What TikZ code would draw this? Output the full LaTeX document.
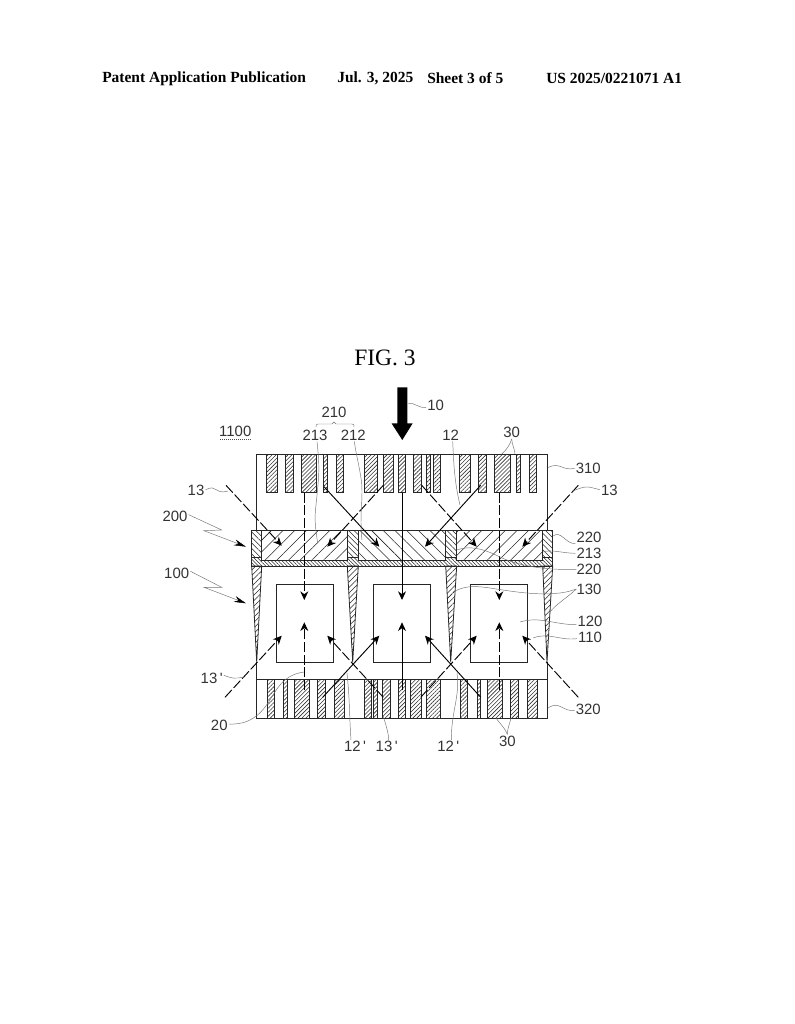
\documentclass[tikz,border=0pt]{standalone}
\usepackage{fontspec}
\setmainfont{Liberation Serif}
\newfontfamily\labelfont{Liberation Sans}
\usetikzlibrary{arrows.meta,patterns.meta}
\tikzset{
  lb/.style={font=\labelfont\fontsize{11.2}{12}\selectfont,text=black!80,inner sep=0pt},
  headtxt/.style={font=\bfseries\fontsize{11.6}{13}\selectfont,anchor=west,inner sep=0pt},
  leader/.style={draw=black!55,line width=.35pt},
  edgeline/.style={draw=black!85,line width=.6pt},
  barhatch/.style={edgeline,pattern={Lines[angle=45,distance=2.1pt,line width=.45pt]},pattern color=black!80},
  cellhatch/.style={edgeline,pattern={Lines[angle=#1,distance=6.2pt,line width=.4pt]},pattern color=black!85},
  pillarhatch/.style={edgeline,pattern={Lines[angle=#1,distance=2.9pt,line width=.4pt]},pattern color=black!85},
  thinhatch/.style={edgeline,pattern={Lines[angle=-45,distance=1.9pt,line width=.4pt]},pattern color=black!85},
  raysolid/.style={-{Stealth[length=6.5pt,width=6pt]},line width=.7pt},
  raydash/.style={raysolid,dash pattern=on 7.5pt off 2pt},
  bigtip/.style={-{Stealth[length=9pt,width=4.5pt,black]},leader}
}
\begin{document}
\begin{tikzpicture}[x=.75pt,y=-.75pt]
    \useasboundingbox (0,0) rectangle (794,1024);

    \node[headtxt] (headpub) at (102,78.5) {Patent Application Publication};
    \node[headtxt] (headdate) at (337,78.5) {Jul. 3, 2025};
    \node[headtxt] (headsheet) at (427,78.5) {Sheet 3 of 5};
    \node[headtxt] (headnum) at (546,78.5) {US 2025/0221071 A1};
    \node[font=\fontsize{17.6}{20}\selectfont,inner sep=0pt] (figname) at (385,358) {FIG. 3};

    \draw[edgeline] (256.7,530) -- (256.7,454.3) -- (547,454.3) -- (547,530);
    \foreach \a/\b in {266.3/277.3,285.3/293.3,301.3/316.7,323.3/327.3,336.3/343.7,364/377.3,383.3/393.7,398.3/405.5,413.3/421.7,426.7/430.7,433.3/440.3,459/470.7,478.7/486.7,494.3/510,516.3/520.7,529.3/536.7}
        \draw[barhatch] (\a,454.3) rectangle (\b,492.7);

    \draw[edgeline] (256.7,662) -- (256.7,718) -- (547,718) -- (547,662);
    \draw[edgeline] (256.7,679) -- (547,679);
    \foreach \a/\b in {267.3/274.7,283.7/287.7,294.3/309.7,317.3/325.3,334/344.7,364/371,373/377.7,382/390.7,398.3/405.5,410/421.3,426.7/440,460.3/467.7,477/480.7,487.7/502.3,510.3/518.3,527.3/537.3}
        \draw[barhatch] (\a,679) rectangle (\b,718);

    \foreach \a/\b/\c in {261.7/347.3/45,358.3/445.7/-45,456.7/542.7/45}
        \draw[cellhatch=\c] (\a,530) rectangle (\b,560.7);
    \foreach \a/\b in {251.7/261.7,347.3/358.3,445.7/456.7,542.7/552.7}
        \draw[pillarhatch=-45] (\a,530) rectangle (\b,557.3);
    \draw[thinhatch] (251.7,557.3) -- (261.7,557.3) -- (261.7,560.7) -- (347.3,560.7) -- (347.3,557.3) -- (358.3,557.3) -- (358.3,560.7) -- (445.7,560.7) -- (445.7,557.3) -- (456.7,557.3) -- (456.7,560.7) -- (542.7,560.7) -- (542.7,557.3) -- (552.7,557.3) -- (552.7,566) -- (251.7,566) -- cycle;

    \foreach \a/\b/\m in {251.7/261.7/256.7,347.3/358.3/352.7,445.7/456.7/450.7,542.7/552.7/547}
        \draw[pillarhatch=45] (\a,566) -- (\b,566) -- (\m,662) -- cycle;

    \foreach \a/\b in {276.7/333.7,373.3/430.3,470.7/527.7}
        \draw[edgeline] (\a,584.3) rectangle (\b,662.3);

    \fill (397.3,387.3) -- (407.3,387.3) -- (407.3,423.3) -- (412.7,423.3) -- (402.3,440) -- (391.5,423.3) -- (397.3,423.3) -- cycle;

    \draw[raydash] (226,485.3) -- (281.7,545.7);
    \draw[raysolid] (324,486.7) -- (379.3,546.7);
    \draw[raydash] (383.3,485.3) -- (327.3,546.7);
    \draw[raysolid] (480.7,485.3) -- (425,546.7);
    \draw[raydash] (421.7,485.3) -- (476.7,546.7);
    \draw[raydash] (578.3,485.3) -- (522.3,546.7);
    \draw[raydash] (304.3,492.7) -- (304.3,600);
    \draw[raysolid] (402,492.7) -- (402,600);
    \draw[raydash] (499.3,492.7) -- (499.3,600);

    \draw[raydash] (225,697.3) -- (281.7,635.7);
    \draw[raysolid] (322.7,697.3) -- (379.3,635.7);
    \draw[raydash] (383.3,697.3) -- (327.3,635.7);
    \draw[raydash] (420.7,697.3) -- (476.7,635.7);
    \draw[raysolid] (480.7,697.3) -- (425,635.7);
    \draw[raydash] (578.3,697.3) -- (522.3,635.7);
    \draw[raydash] (304.3,690) -- (304.3,622.3);
    \draw[raysolid] (402,690) -- (402,622.3);
    \draw[raydash] (499.3,690) -- (499.3,622.3);

    \node[lb] (lb1100) at (235.3,431.7) {1100};
    \draw[black!70,densely dotted,line width=.5pt] (220,439) -- (251,439);
    \node[lb] (lb210) at (334,412.7) {210};
    \node[lb] (lb213a) at (315,435) {213};
    \node[lb] (lb212) at (353.3,435) {212};
    \node[lb] (lb13a) at (196,490.7) {13};
    \node[lb] (lb200) at (175,516.7) {200};
    \node[lb] (lb100) at (176.7,573.3) {100};
    \node[lb] (lb10) at (435.7,405.7) {10};
    \node[lb] (lb12) at (450.7,435) {12};
    \node[lb] (lb30a) at (511.7,432.3) {30};
    \node[lb] (lb310) at (588.3,468.3) {310};
    \node[lb] (lb13b) at (609.3,490.7) {13};
    \node[lb] (lb220a) at (589,537.7) {220};
    \node[lb] (lb213b) at (589,553.3) {213};
    \node[lb] (lb220b) at (589,569.3) {220};
    \node[lb] (lb130) at (589,589) {130};
    \node[lb] (lb120) at (590,621.7) {120};
    \node[lb] (lb110) at (590,637.7) {110};
    \node[lb] (lb320) at (588.3,709.3) {320};
    \node[lb] (lb30b) at (507.3,741) {30};
    \node[lb] (lb12c) at (448.3,746.7) {12\,'};
    \node[lb] (lb13d) at (386.7,746.7) {13\,'};
    \node[lb] (lb12b) at (355,746.7) {12\,'};
    \node[lb] (lb13c) at (211.7,678.3) {13\,'};
    \node[lb] (lb20) at (219.3,725) {20};

    \coordinate (brL) at (316,427);
    \coordinate (brR) at (354,427);
    \draw[leader] (brL) .. controls +(0,-2) and +(-2,0) .. (318,424) -- (332,424) -- (334,422) -- (336,424) -- (352,424) .. controls +(2,0) and +(0,-2) .. (brR);

    \coordinate (c10) at (408.3,403.3);
    \coordinate (c213a) at (317.7,543.3);
    \coordinate (c212) at (362,540);
    \coordinate (c13a) at (228,491);
    \coordinate (c200) at (246,546.7);
    \coordinate (c100) at (246,603.3);
    \coordinate (c12) at (460,505);
    \coordinate (c30l) at (501.7,454);
    \coordinate (c30r) at (515,454);
    \coordinate (c310) at (548,467.5);
    \coordinate (c13b) at (573,491);
    \coordinate (c220a) at (553,536);
    \coordinate (c213b) at (543,552);
    \coordinate (c220b) at (456.7,550);
    \coordinate (c130a) at (453,592);
    \coordinate (c130b) at (550,612);
    \coordinate (c120) at (520,622);
    \coordinate (c110) at (533,638);
    \coordinate (c320) at (548,708);
    \coordinate (c30c) at (496,718);
    \coordinate (c30d) at (511,718);
    \coordinate (c12c) at (457,673);
    \coordinate (c13d) at (383,715);
    \coordinate (c12b) at (347,673);
    \coordinate (c13c) at (244,677);
    \coordinate (c20a) at (304,672);

    \draw[leader] (lb10.west) ++(-1,2) .. controls +(-9,0) and +(6,-1) .. (c10);
    \draw[leader] (lb213a.south) ++(2,1) .. controls +(3,28) and +(3,-30) .. (316,505) .. controls +(-2,15) and +(-2,-14) .. (c213a);
    \draw[leader] (lb212.south) ++(1,1) .. controls +(2,14) and +(-3,-18) .. (361,478) .. controls +(3,18) and +(-3,-25) .. (c212);
    \draw[leader] (lb13a.east) ++(1,-1) .. controls +(12,-6) and +(-14,4) .. (c13a);
    \draw[bigtip] (lb200.east) ++(1,-2) -- (221.7,530) -- (204,530.7) -- (c200);
    \draw[bigtip] (lb100.east) ++(1,-2) -- (221.7,587.3) -- (204,587.3) -- (c100);
    \draw[leader] (lb12.south) ++(2,1) .. controls +(1,20) and +(-6,-25) .. (c12);
    \draw[leader] (lb30a.south) ++(0,1) .. controls +(-1,5) and +(4,-3) .. (c30l);
    \draw[leader] (lb30a.south) ++(0,1) .. controls +(0,5) and +(0,-4) .. (c30r);
    \draw[leader] (lb310.west) ++(-1,0) .. controls +(-12,3) and +(12,-6) .. (c310);
    \draw[leader] (lb13b.west) ++(-1,-1) .. controls +(-12,-3) and +(14,-6) .. (c13b);
    \draw[leader] (lb220a.west) ++(-1,6) .. controls +(-10,0) and +(8,-6) .. (c220a);
    \draw[leader] (lb213b.west) ++(-1,0) .. controls +(-12,0) and +(8,-3) .. (c213b);
    \draw[leader] (c220b) .. controls +(12,-4) and +(-20,-10) .. (500,557) .. controls +(20,10) and +(-25,1) .. (lb220b.west);
    \draw[leader] (c130a) .. controls +(10,-5) and +(-20,-3) .. (490,588) .. controls +(20,3) and +(-25,10) .. (lb130.west);
    \draw[leader] (lb130.west) .. controls +(-8,8) and +(6,-8) .. (c130b);
    \draw[leader] (lb120.west) ++(-1,3) .. controls +(-22,0) and +(20,-6) .. (c120);
    \draw[leader] (lb110.west) ++(-1,1) .. controls +(-18,2) and +(16,-6) .. (c110);
    \draw[leader] (lb320.west) ++(-1,1) .. controls +(-12,2) and +(12,-8) .. (c320);
    \draw[leader] (lb30b.north) ++(0,-1) .. controls +(-3,-8) and +(3,5) .. (c30c);
    \draw[leader] (lb30b.north) ++(0,-1) .. controls +(0,-6) and +(-1,5) .. (c30d);
    \draw[leader] (lb12c.north) ++(3,-1) .. controls +(0,-30) and +(3,25) .. (c12c);
    \draw[leader] (lb13d.north) ++(2,-1) .. controls +(0,-8) and +(2,8) .. (c13d);
    \draw[leader] (lb12b.north) ++(-4,-1) .. controls +(-2,-30) and +(3,30) .. (c12b);
    \draw[leader] (lb13c.east) ++(1,-3) .. controls +(8,3) and +(-10,2) .. (c13c);
    \draw[leader] (lb20.east) ++(1,-1) .. controls +(20,1) and +(-8,12) .. (268,703) .. controls +(8,-12) and +(-22,3) .. (c20a);

\end{tikzpicture}
\end{document}
